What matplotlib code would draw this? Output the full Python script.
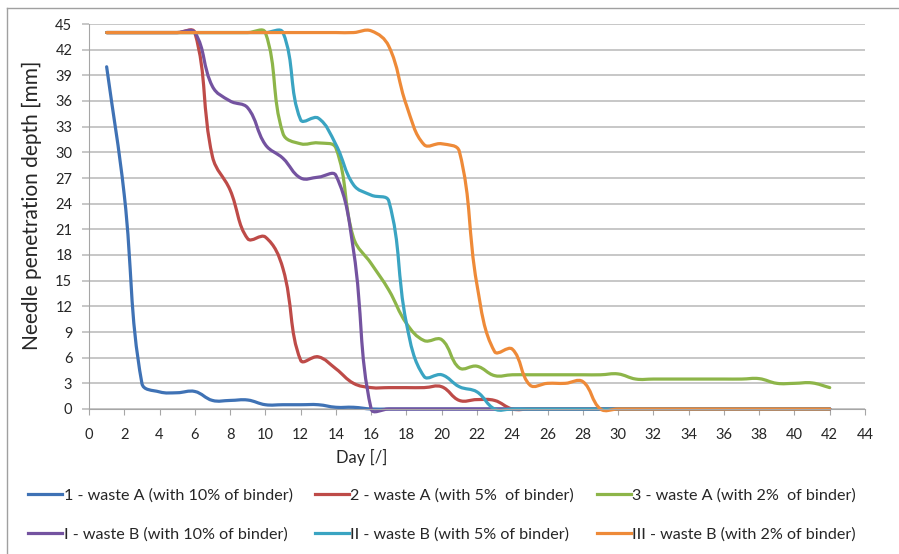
import numpy as np
import matplotlib.pyplot as plt
from matplotlib.path import Path
from matplotlib.patches import PathPatch
from matplotlib.lines import Line2D

plt.rcParams['font.family'] = ['Lato', 'DejaVu Sans']

# needle penetration depth [mm], one value per day (day 1 .. 42)
days = list(range(1, 43))
waste_a_10 = [40, 25, 3, 2, 1.9, 2.05, 1, 1, 1.05, 0.5, 0.5, 0.5, 0.5, 0.2, 0.2, 0,
              0, 0, 0, 0, 0, 0, 0, 0, 0, 0, 0, 0, 0, 0, 0, 0, 0, 0, 0, 0, 0, 0, 0, 0, 0, 0]
waste_a_5 = [44, 44, 44, 44, 44, 44, 29.5, 25.6, 19.9, 20.1, 16.4, 5.7, 6.1, 4.7, 3.0, 2.5,
             2.5, 2.5, 2.5, 2.6, 1.0, 1.1, 1.0, 0, 0, 0, 0, 0, 0, 0, 0, 0, 0, 0, 0, 0, 0, 0, 0, 0, 0, 0]
waste_a_2 = [44, 44, 44, 44, 44, 44, 44, 44, 44, 44, 32.2, 31.0, 31.1, 30.5, 20.0, 17.0,
             13.9, 10.0, 8.0, 8.1, 4.8, 5.0, 3.9, 4.0, 4.0, 4.0, 4.0, 4.0, 4.0, 4.1, 3.5, 3.5,
             3.5, 3.5, 3.5, 3.5, 3.5, 3.55, 3.0, 3.0, 3.05, 2.5]
waste_b_10 = [44, 44, 44, 44, 44, 44, 37.7, 36.0, 35.2, 30.9, 29.3, 27.0, 27.1, 27.3, 18.5, 0,
              0, 0, 0, 0, 0, 0, 0, 0, 0, 0, 0, 0, 0, 0, 0, 0, 0, 0, 0, 0, 0, 0, 0, 0, 0, 0]
waste_b_5 = [44, 44, 44, 44, 44, 44, 44, 44, 44, 44, 44, 33.8, 34.0, 30.9, 26.2, 25.0,
             24.3, 10.0, 3.8, 4.0, 2.6, 2.0, 0, 0, 0, 0, 0, 0, 0, 0, 0, 0, 0, 0, 0, 0, 0, 0, 0, 0, 0, 0]
waste_b_2 = [44, 44, 44, 44, 44, 44, 44, 44, 44, 44, 44, 44, 44, 44, 44, 44.2,
             42.4, 35.5, 30.9, 31.0, 30.1, 14.5, 6.7, 7.0, 2.8, 3.0, 3.0, 3.2, 0, 0, 0, 0,
             0, 0, 0, 0, 0, 0, 0, 0, 0, 0]

series = [waste_a_10, waste_a_5, waste_a_2, waste_b_10, waste_b_5, waste_b_2]
labels = ['1 - waste A (with 10% of binder)',
          '2 - waste A (with 5%  of binder)',
          '3 - waste A (with 2%  of binder)',
          'I - waste B (with 10% of binder)',
          'II - waste B (with 5% of binder)',
          'III - waste B (with 2% of binder)']
colors = ['#3f72b5', '#be4b48', '#8db549', '#7453a0', '#3aa4c2', '#ee8a38']


def smooth_path(ax, x, y, k=0.4):
    # excel-like smoothing, worked out in screen space so that control arms
    # scale with the length of the adjacent segment (keeps overshoot small)
    pts = ax.transData.transform(np.column_stack([x, y]).astype(float))
    ext = np.vstack([pts[0], pts, pts[-1]])
    seg = np.linalg.norm(np.diff(ext, axis=0), axis=1)
    verts = [pts[0]]
    codes = [Path.MOVETO]
    for i in range(len(pts) - 1):
        p0, p1, p2, p3 = ext[i], ext[i + 1], ext[i + 2], ext[i + 3]
        d01, d12, d23 = seg[i], seg[i + 1], seg[i + 2]
        w1 = d12 / (d01 + d12) if d01 + d12 > 0 else 0
        w2 = d12 / (d12 + d23) if d12 + d23 > 0 else 0
        c1 = p1 + (p2 - p0) * k * w1
        c2 = p2 - (p3 - p1) * k * w2
        verts += [c1, c2, p2]
        codes += [Path.CURVE4] * 3
    verts = ax.transData.inverted().transform(np.array(verts))
    return Path(verts, codes)


fig = plt.figure(figsize=(8.99, 5.54), dpi=100)
ax = fig.add_axes([89 / 899, 1 - 409 / 554, 776 / 899, 385 / 554])
ax.set_xlim(0, 44)
ax.set_ylim(0, 45)

handles = []
for vals, col, lab in zip(series, colors, labels):
    patch = PathPatch(smooth_path(ax, days, vals), facecolor='none', edgecolor=col,
                      lw=2.3, capstyle='round', joinstyle='round', clip_on=False)
    ax.add_patch(patch)
    handles.append(Line2D([], [], color=col, lw=2.3, label=lab))

ax.set_xticks(range(0, 45, 2))
ax.set_yticks(range(0, 46, 3))
ax.grid(axis='y', color='#bdbdbd', lw=1.2)
ax.set_axisbelow(True)
for side in ['top', 'right']:
    ax.spines[side].set_visible(False)
for side in ['left', 'bottom']:
    ax.spines[side].set_color('#a6a6a6')
ax.tick_params(axis='x', direction='out', length=4.5, color='#a6a6a6',
               labelsize=10.5, labelcolor='#262626', pad=9)
ax.tick_params(axis='y', direction='out', length=5, color='#bdbdbd', width=1.2,
               labelsize=10.5, labelcolor='#262626', pad=7)

ax.set_xlabel('Day [/]', fontsize=12, color='#262626')
ax.xaxis.set_label_coords(273 / 776, -0.105)
ax.set_ylabel('Needle penetration depth [mm]', fontsize=15, color='#262626')
ax.yaxis.set_label_coords(-0.061, 0.53)

order = [0, 3, 1, 4, 2, 5]
fig.legend([handles[i] for i in order], [labels[i] for i in order],
           loc='upper left', bbox_to_anchor=(20 / 899, 1 - 480 / 554), ncol=3,
           frameon=False, fontsize=11.6, handlelength=2.1, handletextpad=0.1,
           columnspacing=1.4, labelspacing=1.55, borderpad=0, labelcolor='#262626')

# outer chart frame (left and top edges visible in the original)
fig.add_artist(Line2D([7 / 899, 7 / 899], [0, 1 - 8 / 554], color='#a0a0a0', lw=1))
fig.add_artist(Line2D([7 / 899, 1], [1 - 8 / 554, 1 - 8 / 554], color='#a0a0a0', lw=1))

fig.savefig('out.png', dpi=100)
